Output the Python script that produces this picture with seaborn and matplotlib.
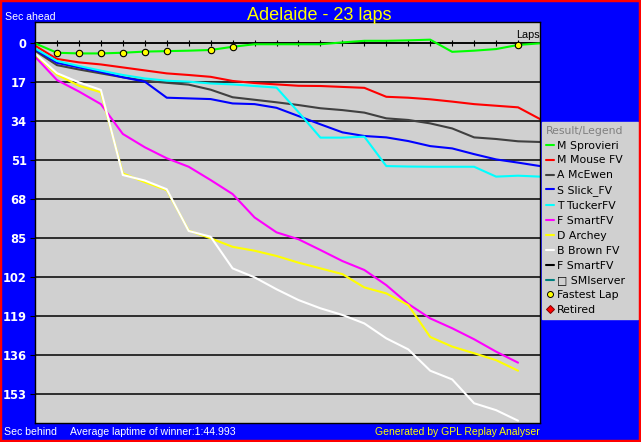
import matplotlib
matplotlib.use("Agg")
import matplotlib.pyplot as plt
from matplotlib.lines import Line2D
from matplotlib.patches import Rectangle
import seaborn as sns
import pandas as pd

# ---------------- data ----------------
laps = list(range(0, 24))

drivers = ["M Sprovieri", "M Mouse FV", "A McEwen", "S Slick_FV", "T TuckerFV",
           "F SmartFV", "D Archey", "B Brown FV"]
colors = ["#00ff00", "#ff0000", "#404040", "#0000ff", "#00ffff",
          "#ff00ff", "#ffff00", "#ffffff"]

sprovieri = [0.0, 4.1, 4.4, 4.4, 4.1, 3.6, 3.4, 3.2, 2.9, 1.5, 0.4, 0.4, 0.4, 0.4,
             -0.4, -1.1, -1.1, -1.3, -1.6, 3.7, 3.2, 2.5, 0.7, 0.0]
mouse = [1.0, 6.8, 8.3, 9.2, 10.5, 11.8, 13.1, 13.8, 14.6, 16.4, 17.3, 17.9, 18.5,
         18.6, 19.0, 19.4, 23.3, 23.7, 24.4, 25.4, 26.5, 27.2, 27.9, 33.0]
mcewen = [3.2, 9.5, 11.4, 13.1, 14.8, 16.3, 17.2, 18.0, 20.2, 23.5, 24.6, 25.7, 26.9,
          28.3, 29.1, 30.2, 32.7, 33.4, 34.9, 37.1, 41.0, 41.7, 42.7, 43.0]
slick = [2.6, 8.5, 10.5, 12.5, 14.8, 16.7, 23.7, 24.0, 24.3, 26.2, 26.5, 28.1, 31.7,
         35.3, 38.8, 40.4, 41.0, 42.6, 44.8, 45.8, 48.3, 50.6, 52.0, 53.5]
tucker = [2.2, 7.7, 9.9, 11.9, 13.8, 15.3, 16.3, 16.7, 17.5, 17.9, 18.6, 19.3, 30.0,
          41.1, 41.1, 40.7, 53.5, 53.7, 53.8, 53.8, 53.8, 58.1, 57.7, 58.1]
smart = [5.8, 16.0, 21.0, 26.5, 39.5, 45.3, 50.1, 53.8, 59.6, 65.7, 75.9, 82.4, 85.4,
         90.1, 94.9, 98.8, 105.4, 113.6, 119.9, 124.2, 129.0, 134.4, 139.2]
archey = [4.7, 13.6, 18.5, 21.3, 56.7, 60.5, 64.0, 81.6, 85.0, 88.7, 90.4, 92.7, 95.6,
          98.1, 100.6, 106.4, 109.0, 114.1, 128.0, 132.2, 135.1, 138.1, 142.7]
brown = [4.4, 13.0, 17.0, 20.3, 57.4, 59.8, 63.6, 81.8, 84.3, 98.1, 102.0, 107.2, 111.9,
         115.5, 118.4, 122.1, 128.6, 133.4, 142.7, 146.5, 156.9, 159.9, 164.5]
series = [sprovieri, mouse, mcewen, slick, tucker, smart, archey, brown]

fastest_laps = [1, 2, 3, 4, 5, 6, 8, 9, 22]

extra_names = ["F SmartFV", "\u25a1 SMIserver"]
extra_colors = ["#000000", "#008080"]

y_ticks = [0, 17, 34, 51, 68, 85, 102, 119, 136, 153]
lap_ticks = list(range(1, 23))

title = "Adelaide - 23 laps"

# ---------------- table ----------------
rows = []
for name, vals in zip(drivers, series):
    for lp, v in zip(laps, vals):
        rows.append({"lap": lp, "gap": v, "driver": name})
df = pd.DataFrame(rows)
palette = dict(zip(drivers, colors))

# ---------------- figure ----------------
sns.set_style("white")
plt.rcParams["font.family"] = ["Liberation Sans", "DejaVu Sans"]

W, H = 641, 442
fig = plt.figure(figsize=(W / 100, H / 100), dpi=100, facecolor="#0000ff")
ax = fig.add_axes([35 / W, 19 / H, 505 / W, 401 / H])
ax.set_facecolor("#d0d0d0")

sns.lineplot(data=df, x="lap", y="gap", hue="driver", hue_order=drivers,
             palette=palette, linewidth=1.5, estimator=None, sort=False,
             legend=False, ax=ax)

fast_vals = [sprovieri[l] for l in fastest_laps]
ax.plot(fastest_laps, fast_vals, ls="none", marker="o", ms=4.6,
        mfc="#ffff00", mec="#000000", mew=0.8, zorder=5)

ax.set_xlim(0, 23)
ax.set_ylim(165.5, -9.3)
ax.set_xlabel("")
ax.set_ylabel("")
ax.set_xticks([])
ax.set_yticks(y_ticks)
ax.set_yticklabels([str(t) for t in y_ticks], color="white", fontweight="bold",
                   fontsize=8.3, family="DejaVu Sans")
ax.tick_params(axis="y", left=True, length=3.5, width=0.8, color="black", pad=2.5)
ax.grid(axis="y", color="black", linewidth=1.1)
ax.grid(axis="x", visible=False)
for s in ax.spines.values():
    s.set_color("black")
    s.set_linewidth(1.0)

# lap axis at zero
ylo, yhi = ax.get_ylim()
loc0 = (ylo - 0) / (ylo - yhi)
sec = ax.secondary_xaxis(loc0)
sec.set_xticks(lap_ticks)
sec.set_xticklabels([])
sec.tick_params(direction="inout", length=5, width=0.8, color="black")
sec.spines["top"].set_color("black")
sec.spines["top"].set_linewidth(1.1)
sec.spines["bottom"].set_visible(False)
ax.text(22.97, -2.3, "Laps", ha="right", va="baseline", fontsize=7.8, color="black")

# texts
fig.text(5 / W, 1 - 19.5 / H, "Sec ahead", color="white", fontsize=7.6,
         ha="left", va="baseline")
fig.text(319 / W, 1 - 20 / H, title, color="#ffff00", fontsize=13,
         ha="center", va="baseline")
fig.text(4 / W, 7 / H, "Sec behind", color="white", fontsize=7.6,
         ha="left", va="baseline")
fig.text(70 / W, 7 / H, "Average laptime of winner:1:44.993", color="white",
         fontsize=7.6, ha="left", va="baseline")
fig.text(540 / W, 7 / H, "Generated by GPL Replay Analyser", color="#ffff00",
         fontsize=7.5, ha="right", va="baseline")

# legend
handles = [Line2D([], [], color=c, lw=1.5) for c in colors + extra_colors]
labels = drivers + extra_names
handles.append(Line2D([], [], ls="none", marker="o", ms=4.3, mfc="#ffff00",
                      mec="#000000", mew=0.7))
labels.append("Fastest Lap")
handles.append(Line2D([], [], ls="none", marker="D", ms=3.6, mfc="#ff0000",
                      mec="#800000", mew=0.7))
labels.append("Retired")

leg = fig.legend(handles, labels, loc="upper left",
                 bbox_to_anchor=(542 / W, 1 - 122 / H, 96 / W, 0.0001),
                 bbox_transform=fig.transFigure, mode="expand",
                 title="Result/Legend", alignment="left",
                 prop={"family": "DejaVu Sans", "size": 7.8},
                 title_fontproperties={"family": "DejaVu Sans", "size": 7.8},
                 frameon=True, fancybox=False,
                 borderaxespad=0, borderpad=0.35, handlelength=0.8,
                 handletextpad=0.25, labelspacing=0.45, markerfirst=True)
leg.get_frame().set_facecolor("#d0d0d0")
leg.get_frame().set_edgecolor("#d0d0d0")
leg.get_frame().set_alpha(1)
leg.get_title().set_color("#808080")
for t in leg.get_texts():
    t.set_color("black")

# red border
fig.patches.append(Rectangle((0, 0), 1, 1, transform=fig.transFigure, fill=False,
                             edgecolor="#ff0000", linewidth=3.2, zorder=10))

fig.savefig("out.png", dpi=100, facecolor=fig.get_facecolor())
